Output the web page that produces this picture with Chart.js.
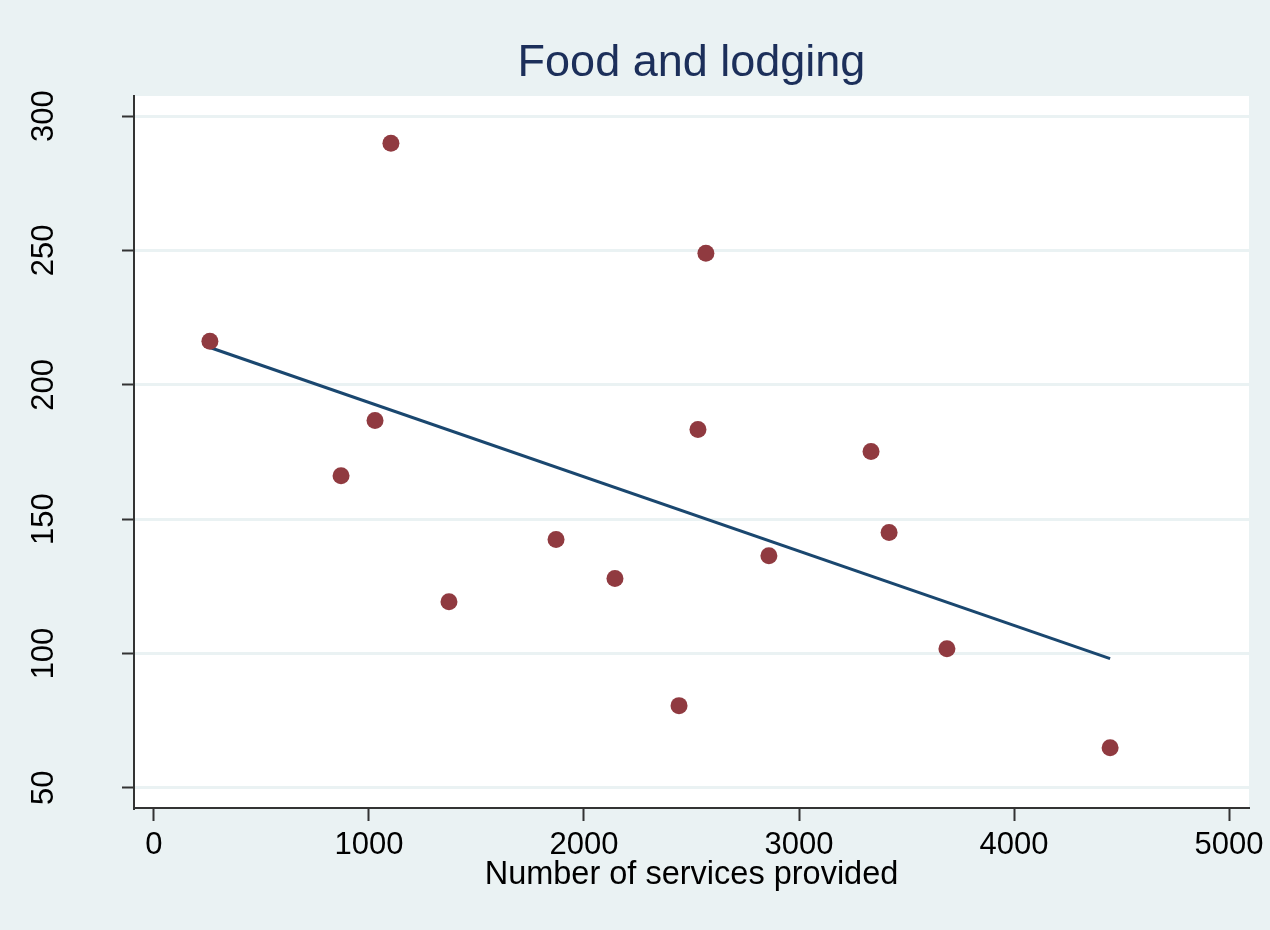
<!DOCTYPE html>
<html>
<head>
<meta charset="utf-8">
<script src="https://cdn.jsdelivr.net/npm/chart.js@4.4.1/dist/chart.umd.min.js"></script>
<style>
html, body { margin: 0; padding: 0; background: #eaf2f3; }
</style>
</head>
<body>
<canvas id="foodChart" width="1270" height="930"></canvas>
<script>
// data
const services = [260, 1102, 2567, 1028, 870, 2530, 3335, 3419, 1870, 2860, 2144, 1372, 3688, 2442, 4447];
const spending = [216.2, 289.9, 249, 186.7, 166.2, 183.4, 175.2, 145, 142.4, 136.4, 127.9, 119.3, 101.8, 80.6, 64.9];
const fitX = [260, 4447];
const fitY = [213.9, 98.1];
const xTicks = [0, 1000, 2000, 3000, 4000, 5000];
const yTicks = [50, 100, 150, 200, 250, 300];

const FONT = "'Liberation Sans', Arial, sans-serif";

const plotBg = {
    id: 'plotBg',
    beforeDraw(chart) {
        const { ctx, chartArea: a } = chart;
        ctx.save();
        ctx.fillStyle = '#eaf2f3';
        ctx.fillRect(0, 0, chart.width, chart.height);
        ctx.fillStyle = '#ffffff';
        ctx.fillRect(a.left, a.top, a.right - a.left, a.bottom - a.top);
        ctx.restore();
    }
};

// rotated y tick labels, placed via the y scale
const yLabels = {
    id: 'yLabels',
    afterDraw(chart) {
        const { ctx } = chart;
        const y = chart.scales.y;
        ctx.save();
        ctx.font = '31px ' + FONT;
        ctx.fillStyle = '#000';
        ctx.textAlign = 'center';
        ctx.textBaseline = 'alphabetic';
        yTicks.forEach(v => {
            ctx.save();
            ctx.translate(53, y.getPixelForValue(v));
            ctx.rotate(-Math.PI / 2);
            ctx.fillText(String(v), 0, 0);
            ctx.restore();
        });
        ctx.restore();
    }
};

new Chart(document.getElementById('foodChart').getContext('2d'), {
    data: {
        datasets: [{
            type: 'scatter',
            data: services.map((x, i) => ({ x: x, y: spending[i] })),
            backgroundColor: '#903a40',
            borderWidth: 0,
            pointRadius: 8.5,
            order: 0
        }, {
            type: 'line',
            data: fitX.map((x, i) => ({ x: x, y: fitY[i] })),
            borderColor: '#1a476f',
            borderWidth: 3,
            pointRadius: 0,
            fill: false,
            order: 1
        }]
    },
    options: {
        responsive: false,
        animation: false,
        layout: {
            padding: { top: 37, left: 0, right: 21, bottom: 0 }
        },
        plugins: {
            legend: { display: false },
            tooltip: { enabled: false },
            title: {
                display: true,
                text: 'Food and lodging',
                fullSize: false,
                color: '#1c2f5a',
                font: { family: FONT, size: 45, weight: 'normal' },
                padding: { top: 0, bottom: 5 }
            }
        },
        scales: {
            x: {
                type: 'linear',
                min: -93,
                max: 5093,
                afterBuildTicks: s => { s.ticks = xTicks.map(v => ({ value: v })); },
                afterFit: s => { s.height = 122; },
                border: { color: '#333', width: 2 },
                grid: {
                    drawOnChartArea: false,
                    tickLength: 13,
                    tickColor: '#333',
                    tickWidth: 2
                },
                ticks: {
                    color: '#000',
                    padding: 6,
                    maxRotation: 0,
                    font: { family: FONT, size: 31 },
                    callback: v => String(v)
                },
                title: {
                    display: true,
                    text: 'Number of services provided',
                    color: '#000',
                    font: { family: FONT, size: 32.5 },
                    padding: { top: 0, bottom: 35 }
                }
            },
            y: {
                type: 'linear',
                min: 42.5,
                max: 307.5,
                afterBuildTicks: s => { s.ticks = yTicks.map(v => ({ value: v })); },
                afterFit: s => { s.width = 134; },
                border: { color: '#333', width: 2 },
                grid: {
                    color: '#eaf2f3',
                    lineWidth: 3,
                    tickLength: 12,
                    tickColor: '#333',
                    tickWidth: 2
                },
                ticks: { display: false }
            }
        }
    },
    plugins: [plotBg, yLabels]
});
</script>
</body>
</html>
